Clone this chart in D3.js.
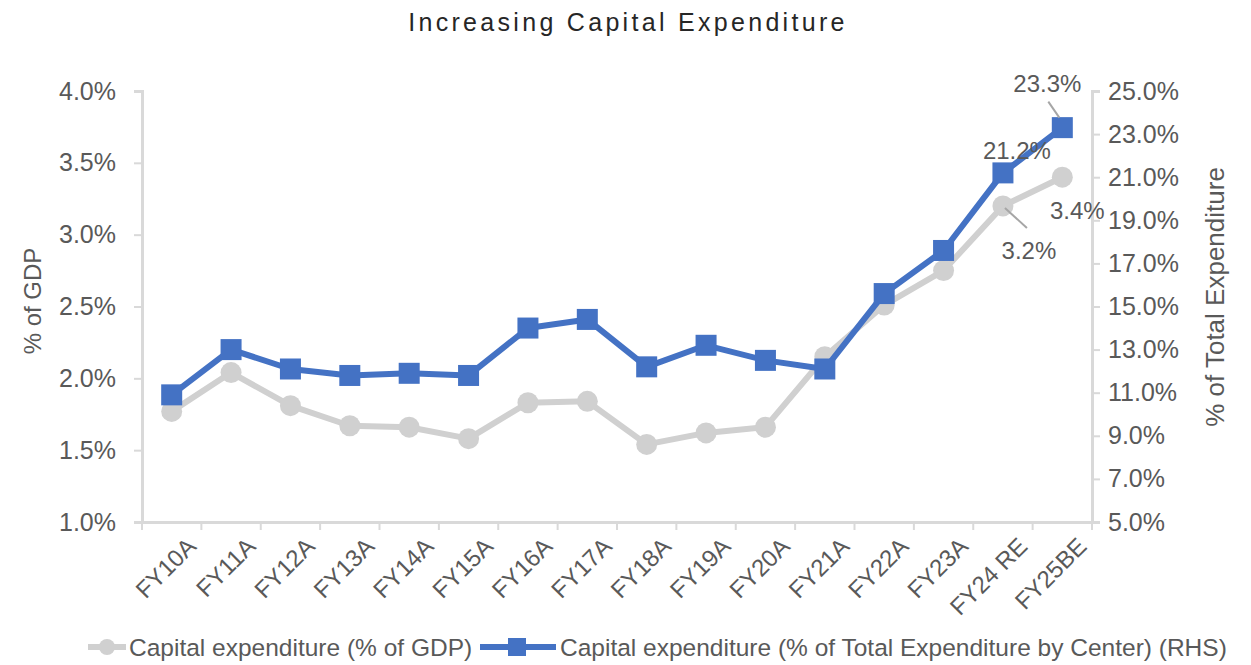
<!DOCTYPE html>
<html>
<head>
<meta charset="utf-8">
<script src="https://cdn.jsdelivr.net/npm/d3@7"></script>
<style>
  body { margin: 0; background: #fff; }
  text { font-family: "Liberation Sans", Arial, sans-serif; }
</style>
</head>
<body>
<script>
var categories = ["FY10A", "FY11A", "FY12A", "FY13A", "FY14A", "FY15A", "FY16A", "FY17A",
                  "FY18A", "FY19A", "FY20A", "FY21A", "FY22A", "FY23A", "FY24 RE", "FY25BE"];
var gdpShare = [1.77, 2.04, 1.81, 1.67, 1.66, 1.58, 1.83, 1.84, 1.54, 1.62, 1.66, 2.15, 2.51, 2.75, 3.2, 3.4];
var totalShare = [10.9, 13.0, 12.1, 11.8, 11.9, 11.8, 14.0, 14.4, 12.2, 13.2, 12.5, 12.1, 15.6, 17.6, 21.2, 23.3];
var leftTicks = [1.0, 1.5, 2.0, 2.5, 3.0, 3.5, 4.0];
var rightTicks = [5, 7, 9, 11, 13, 15, 17, 19, 21, 23, 25];

function main() {
    var width = 1251, height = 665;
    var left = 142, right = 1092, top = 91, bottom = 522;
    var axisColor = "#d9d9d9", textColor = "#595959";
    var grey = "#d0d0d0", blue = "#4472c4";

    var svg = d3.select("body").append("svg")
        .attr("width", width).attr("height", height);

    svg.append("text")
        .attr("x", 628).attr("y", 31)
        .attr("text-anchor", "middle")
        .attr("font-family", "Lato, sans-serif")
        .attr("font-size", "25px")
        .attr("letter-spacing", "3.3px")
        .attr("fill", "#262626")
        .text("Increasing Capital Expenditure");

    var x = d3.scaleBand().domain(categories).range([left, right]);
    var yL = d3.scaleLinear().domain([1, 4]).range([bottom, top]);
    var yR = d3.scaleLinear().domain([5, 25]).range([bottom, top]);

    // left axis
    var gl = svg.append("g").attr("transform", "translate(" + left + ",0)")
        .call(d3.axisLeft(yL).tickValues(leftTicks).tickSize(8).tickPadding(18)
            .tickFormat(function(d) { return d.toFixed(1) + "%"; }));
    // right axis
    var gr = svg.append("g").attr("transform", "translate(" + right + ",0)")
        .call(d3.axisRight(yR).tickValues(rightTicks).tickSize(8).tickPadding(8)
            .tickFormat(function(d) { return d.toFixed(1) + "%"; }));
    // x axis, ticks on band edges
    var gx = svg.append("g").attr("transform", "translate(0," + bottom + ")")
        .call(d3.axisBottom(x).tickSize(0).tickPadding(0).tickFormat(""));
    gx.selectAll(".edge")
        .data(categories.concat([null]))
        .enter().append("line")
        .attr("class", "edge")
        .attr("x1", function(d, i) { return left + i * x.step(); })
        .attr("x2", function(d, i) { return left + i * x.step(); })
        .attr("y1", 0).attr("y2", 8)
        .attr("stroke", axisColor).attr("stroke-width", 2);
    gx.selectAll(".cat")
        .data(categories)
        .enter().append("text")
        .attr("class", "cat")
        .attr("transform", function(d) {
            return "translate(" + (x(d) + x.bandwidth() / 2 + 14) + ",14) rotate(-45)";
        })
        .attr("text-anchor", "end")
        .attr("dy", "0.7em")
        .attr("font-size", "24px")
        .attr("fill", textColor)
        .text(function(d) { return d; });

    [gl, gr, gx].forEach(function(g) {
        g.select(".domain").attr("stroke", axisColor).attr("stroke-width", 3);
        g.selectAll(".tick line").attr("stroke", axisColor).attr("stroke-width", 2);
        g.selectAll(".tick text").attr("font-size", "25px").attr("fill", textColor)
            .attr("font-family", "Liberation Sans, Arial, sans-serif");
    });

    svg.append("text")
        .attr("transform", "translate(41,301) rotate(-90)")
        .attr("text-anchor", "middle")
        .attr("font-size", "24px").attr("fill", textColor)
        .text("% of GDP");
    svg.append("text")
        .attr("transform", "translate(1224,297) rotate(-90)")
        .attr("text-anchor", "middle")
        .attr("font-size", "26px").attr("fill", textColor)
        .text("% of Total Expenditure");

    var cx = function(d, i) { return x(categories[i]) + x.bandwidth() / 2; };

    // grey series (left axis)
    svg.append("path")
        .datum(gdpShare)
        .attr("fill", "none").attr("stroke", grey).attr("stroke-width", 6)
        .attr("stroke-linejoin", "round")
        .attr("d", d3.line().x(cx).y(function(d) { return yL(d); }));
    svg.selectAll(".gdot")
        .data(gdpShare)
        .enter().append("circle")
        .attr("class", "gdot")
        .attr("cx", cx).attr("cy", function(d) { return yL(d); })
        .attr("r", 10.5).attr("fill", grey);

    // blue series (right axis)
    svg.append("path")
        .datum(totalShare)
        .attr("fill", "none").attr("stroke", blue).attr("stroke-width", 6)
        .attr("stroke-linejoin", "round")
        .attr("d", d3.line().x(cx).y(function(d) { return yR(d); }));
    svg.selectAll(".bsq")
        .data(totalShare)
        .enter().append("rect")
        .attr("class", "bsq")
        .attr("x", function(d, i) { return cx(d, i) - 10.5; })
        .attr("y", function(d) { return yR(d) - 10.5; })
        .attr("width", 21).attr("height", 21)
        .attr("fill", blue);

    // data labels on last two points
    var n = categories.length;
    var x24 = cx(null, n - 2), x25 = cx(null, n - 1);
    svg.append("line")
        .attr("x1", x25 - 14).attr("y1", yR(totalShare[n - 1]) - 26)
        .attr("x2", x25 - 3).attr("y2", yR(totalShare[n - 1]) - 10)
        .attr("stroke", "#a6a6a6").attr("stroke-width", 2);
    svg.append("text")
        .attr("x", x25 - 15).attr("y", yR(totalShare[n - 1]) - 36)
        .attr("text-anchor", "middle").attr("font-size", "24px").attr("fill", textColor)
        .text(totalShare[n - 1].toFixed(1) + "%");
    svg.append("text")
        .attr("x", x24 + 14).attr("y", yR(totalShare[n - 2]) - 14)
        .attr("text-anchor", "middle").attr("font-size", "24px").attr("fill", textColor)
        .text(totalShare[n - 2].toFixed(1) + "%");
    svg.append("text")
        .attr("x", x25 + 15).attr("y", yL(gdpShare[n - 1]) + 42)
        .attr("text-anchor", "middle").attr("font-size", "24px").attr("fill", textColor)
        .text(gdpShare[n - 1].toFixed(1) + "%");
    svg.append("line")
        .attr("x1", x24 + 2).attr("y1", yL(gdpShare[n - 2]) + 2)
        .attr("x2", x24 + 24).attr("y2", yL(gdpShare[n - 2]) + 22)
        .attr("stroke", "#a6a6a6").attr("stroke-width", 2);
    svg.append("text")
        .attr("x", x24 + 26).attr("y", yL(gdpShare[n - 2]) + 53)
        .attr("text-anchor", "middle").attr("font-size", "24px").attr("fill", textColor)
        .text(gdpShare[n - 2].toFixed(1) + "%");

    // legend
    var lg = svg.append("g").attr("transform", "translate(0,647)");
    lg.append("line").attr("x1", 88).attr("x2", 126).attr("y1", 0).attr("y2", 0)
        .attr("stroke", grey).attr("stroke-width", 6);
    lg.append("circle").attr("cx", 107).attr("cy", 0).attr("r", 8).attr("fill", grey);
    lg.append("text").attr("x", 129).attr("y", 9).attr("font-size", "24.5px").attr("fill", textColor)
        .text("Capital expenditure (% of GDP)");
    lg.append("line").attr("x1", 480).attr("x2", 556).attr("y1", 0).attr("y2", 0)
        .attr("stroke", blue).attr("stroke-width", 6);
    lg.append("rect").attr("x", 508).attr("y", -9).attr("width", 18).attr("height", 18).attr("fill", blue);
    lg.append("text").attr("x", 560).attr("y", 9).attr("font-size", "24.5px").attr("fill", textColor)
        .text("Capital expenditure (% of Total Expenditure by Center) (RHS)");
}

window.onload = main;
</script>
</body>
</html>
